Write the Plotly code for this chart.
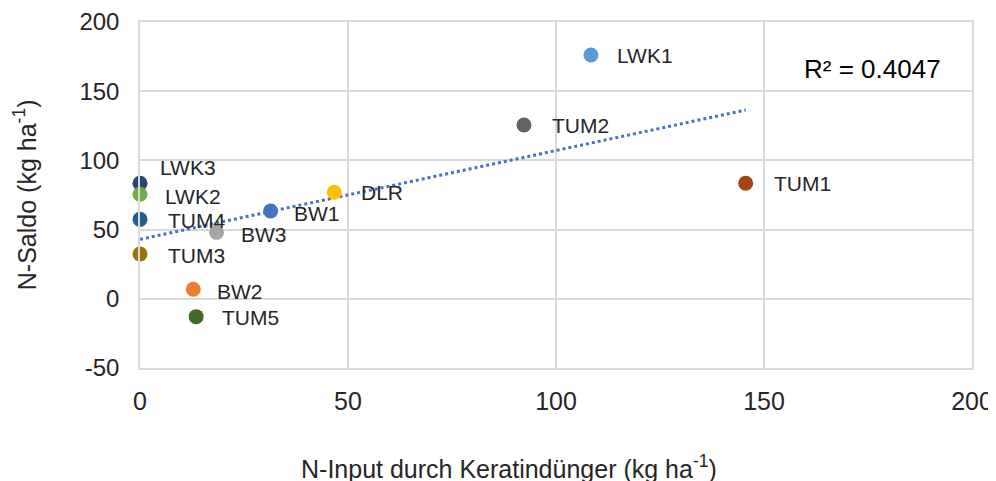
import numpy as np
import plotly.graph_objects as go

# Data
sites = ["LWK1", "TUM2", "TUM1", "DLR", "BW1", "BW3", "BW2", "TUM5", "LWK3", "LWK2", "TUM4", "TUM3"]
n_input = [108.4, 92.3, 145.6, 46.7, 31.4, 18.4, 12.8, 13.5, 0, 0, 0, 0]
n_saldo = [176.2, 125.6, 83.5, 77.0, 63.4, 48.0, 6.9, -12.9, 83.5, 75.5, 57.4, 32.4]
colors = ["#5B9BD5", "#636363", "#9E480E", "#FFC000", "#4472C4", "#A5A5A5",
          "#ED7D31", "#43682B", "#264478", "#70AD47", "#255E91", "#997300"]
x_tick_vals = [0, 50, 100, 150, 200]
x_tick_text = ["0", "50", "100", "150", "200"]
y_tick_vals = [-50, 0, 50, 100, 150, 200]
y_tick_text = ["-50", "0", "50", "100", "150", "200"]
r2_label = "R² = 0.4047"

# label offsets in pixels (style)
label_shift = {
    "LWK3": (18, 16), "LWK2": (23, -2), "TUM4": (26, -1), "TUM3": (26, -2),
    "BW3": (22, -2), "BW1": (21, -2), "DLR": (25, 0), "BW2": (22, -2),
    "TUM5": (24, -1), "LWK1": (24, -1), "TUM2": (26, -1), "TUM1": (26, 0),
}

fig = go.Figure()

# linear trendline
slope, intercept = np.polyfit(n_input, n_saldo, 1)
xt = np.array([0, max(n_input)])
fig.add_trace(go.Scatter(x=xt, y=slope * xt + intercept, mode="lines",
                         line=dict(color="#4472C4", width=3, dash="dot"),
                         hoverinfo="skip", showlegend=False))

fig.add_trace(go.Scatter(x=n_input, y=n_saldo, mode="markers",
                         marker=dict(color=colors, size=15),
                         cliponaxis=False,
                         text=sites, showlegend=False))

FONT = "Liberation Sans, Arial"
annotations = []
for s, xv, yv in zip(sites, n_input, n_saldo):
    dx, dy = label_shift[s]
    annotations.append(dict(x=xv, y=yv, text=s, showarrow=False, xanchor="left",
                            yanchor="middle", xshift=dx, yshift=dy,
                            font=dict(family=FONT, size=21, color="#262626")))

annotations.append(dict(x=0.796, y=0.864, xref="paper", yref="paper", text=r2_label,
                        showarrow=False, xanchor="left", yanchor="middle",
                        font=dict(family=FONT, size=26, color="#000000")))
annotations.append(dict(x=0.4435, y=-0.286, xref="paper", yref="paper",
                        text="N-Input durch Keratindünger (kg ha<sup>-1</sup>)",
                        showarrow=False, xanchor="center", yanchor="middle",
                        font=dict(family=FONT, size=25, color="#262626")))
annotations.append(dict(x=-0.138, y=0.5, xref="paper", yref="paper",
                        text="N-Saldo (kg ha<sup>-1</sup>)", textangle=-90,
                        showarrow=False, xanchor="center", yanchor="middle",
                        font=dict(family=FONT, size=25, color="#262626")))

# the page body has an 8px margin; size the figure to fit the 996x481 window
fig.update_layout(
    width=988, height=473,
    margin=dict(l=132, r=24, t=14, b=113, autoexpand=False),
    paper_bgcolor="white", plot_bgcolor="white",
    font=dict(family=FONT, color="#262626"),
    annotations=annotations,
    xaxis=dict(range=[0, 200], tickvals=x_tick_vals, ticktext=x_tick_text,
               showgrid=True, gridcolor="#D9D9D9", automargin=False,
               gridwidth=1.5, zeroline=False, showline=True, mirror=True,
               linecolor="#D9D9D9", linewidth=1.5, tickfont=dict(size=25),
               ticklabelstandoff=10),
    yaxis=dict(range=[-50, 200], tickvals=y_tick_vals, ticktext=y_tick_text,
               showgrid=True, gridcolor="#D9D9D9", automargin=False,
               gridwidth=1.5, zeroline=False, showline=True, mirror=True,
               linecolor="#D9D9D9", linewidth=1.5, tickfont=dict(size=24),
               ticklabelstandoff=14),
)

fig.write_html("out.html")
